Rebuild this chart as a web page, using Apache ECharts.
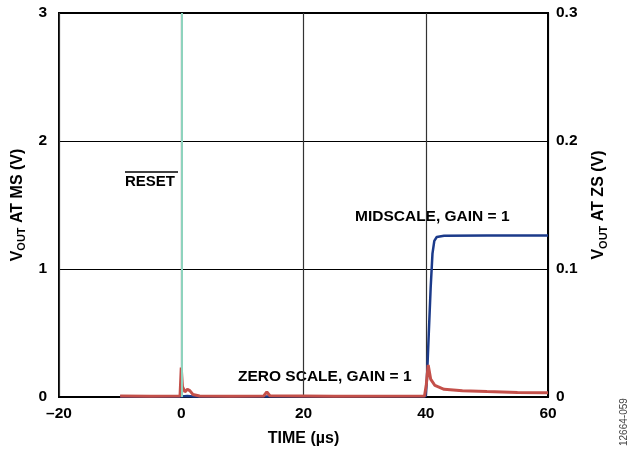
<!DOCTYPE html>
<html>
<head>
    <meta charset="utf-8">
    <title>ECharts</title>
    <script src="https://cdn.jsdelivr.net/npm/echarts@6/dist/echarts.min.js"></script>
</head>
<body style="margin:0">
<div id="main" style="width: 638px;height:454px;"></div>
<script type="text/javascript">
    // time in µs, midscale on left axis (V), zero scale on right axis (V)
    var xTicks = [-20, 0, 20, 40, 60];
    var leftTicks = [0, 1, 2, 3];
    var rightTicks = [0, 0.1, 0.2, 0.3];
    var resetTime = 0;

    var midscale = [
        [-10, 0.004], [0, 0.004], [1, 0.008], [2, 0.004], [40, 0.006],
        [40.2, 0.15], [40.5, 0.5], [40.8, 0.85], [41.1, 1.12], [41.4, 1.22],
        [41.8, 1.25], [43, 1.26], [50, 1.262], [60, 1.262]
    ];
    var zeroscale = [
        [-10, 0.0008], [-5, 0.0006], [-0.2, 0.0008], [0, 0.023], [0.2, 0.008],
        [0.6, 0.004], [1, 0.006], [1.4, 0.005], [1.9, 0.002], [3, 0.0008],
        [8, 0.0006], [13.5, 0.0008], [14, 0.004], [14.5, 0.001], [25, 0.0006],
        [39.8, 0.0008], [40.1, 0.01], [40.4, 0.025], [40.8, 0.014], [41.5, 0.009],
        [43, 0.006], [46, 0.0048], [50, 0.0042], [55, 0.0036], [60, 0.0033]
    ];

    var myChart = echarts.init(document.getElementById('main'));
    var font = 'Liberation Sans, Arial, sans-serif';
    var nameRich = {
        b: {fontFamily: font, fontWeight: 'bold', fontSize: 16, color: '#000', lineHeight: 20},
        sub: {fontFamily: font, fontWeight: 'bold', fontSize: 11, color: '#000', lineHeight: 20, verticalAlign: 'bottom', padding: [7, 0, 0, 0]}
    };
    var tickFont = {fontFamily: font, fontWeight: 'bold', fontSize: 15.5, color: '#000'};

    var option = {
        animation: false,
        grid: {left: 59, right: 90, top: 13, bottom: 57, show: true, borderColor: '#000', borderWidth: 2},
        xAxis: {
            type: 'value', min: xTicks[0], max: xTicks[xTicks.length - 1], interval: 20,
            name: 'TIME (µs)', nameLocation: 'middle', nameGap: 34,
            nameTextStyle: {fontFamily: font, fontWeight: 'bold', fontSize: 16, color: '#000'},
            axisLine: {lineStyle: {color: '#000', width: 2}},
            axisTick: {show: false},
            axisLabel: Object.assign({
                margin: 9,
                formatter: function (v) { return v < 0 ? '\u2013' + Math.abs(v) : String(v); }
            }, tickFont),
            splitLine: {lineStyle: {color: '#333', width: 1.2}}
        },
        yAxis: [
            {
                type: 'value', min: 0, max: 3, interval: 1,
                name: '{b|V}{sub|OUT}{b| AT MS (V)}', nameLocation: 'middle', nameGap: 30,
                nameTextStyle: {rich: nameRich},
                axisLine: {show: true, lineStyle: {color: '#000', width: 2}},
                axisTick: {show: false},
                axisLabel: Object.assign({margin: 12}, tickFont),
                splitLine: {lineStyle: {color: '#000', width: 1}}
            },
            {
                type: 'value', min: 0, max: 0.3, interval: 0.1,
                name: '{b|V}{sub|OUT}{b| AT ZS (V)}', nameLocation: 'middle', nameGap: 41,
                nameTextStyle: {rich: nameRich},
                axisLine: {show: true, lineStyle: {color: '#000', width: 2}},
                axisTick: {show: false},
                axisLabel: Object.assign({margin: 8}, tickFont),
                splitLine: {show: false}
            }
        ],
        series: [
            {
                name: 'reset', type: 'line', data: [], yAxisIndex: 0,
                markLine: {
                    silent: true, symbol: 'none', label: {show: false},
                    lineStyle: {color: '#8ED3BD', width: 2, type: 'solid'},
                    data: [{xAxis: resetTime}]
                }
            },
            {
                name: 'MIDSCALE, GAIN = 1', type: 'line', yAxisIndex: 0, data: midscale,
                showSymbol: false, lineStyle: {color: '#1B3A8A', width: 2.5}, z: 3
            },
            {
                name: 'ZERO SCALE, GAIN = 1', type: 'line', yAxisIndex: 1, data: zeroscale,
                showSymbol: false, lineStyle: {color: '#C4504A', width: 3}, z: 4
            }
        ],
        graphic: [
            {type: 'text', left: 125, top: 174, style: {text: 'RESET', font: 'bold 15px ' + font, fill: '#000'}},
            {type: 'line', shape: {x1: 125, y1: 172, x2: 178, y2: 172}, style: {stroke: '#000', lineWidth: 1.5}},
            {type: 'text', left: 355, top: 209, style: {text: 'MIDSCALE, GAIN = 1', font: 'bold 15.5px ' + font, fill: '#000'}},
            {type: 'text', left: 238, top: 369, style: {text: 'ZERO SCALE, GAIN = 1', font: 'bold 15.5px ' + font, fill: '#000'}},
            {type: 'text', x: 619, y: 446, rotation: Math.PI / 2, style: {text: '12664-059', font: '10px ' + font, fill: '#444', align: 'left', verticalAlign: 'top'}}
        ]
    };
    myChart.setOption(option);
</script>
</body>
</html>
